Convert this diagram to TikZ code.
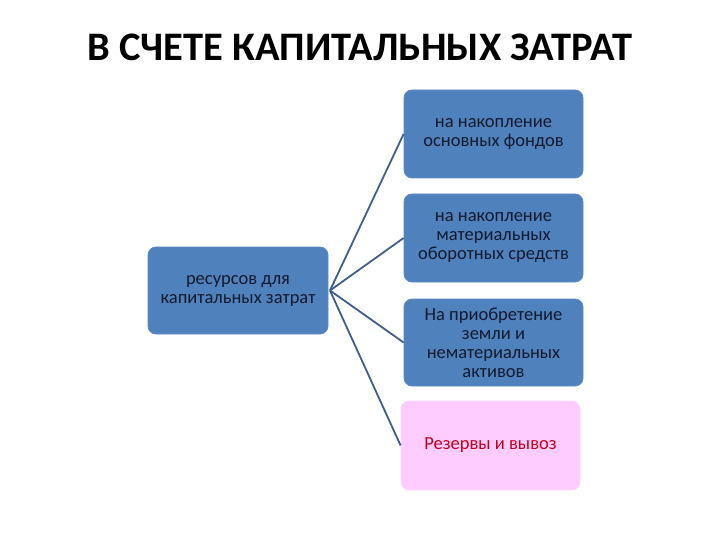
\documentclass[tikz,border=0pt]{standalone}
\usepackage{fontspec}
\setmainfont{Carlito}
\definecolor{boxblue}{HTML}{4F81BD}
\definecolor{boxedge}{HTML}{5B8AC4}
\definecolor{linecol}{HTML}{3E5F8A}
\definecolor{pinkfill}{HTML}{FFCCFF}
\definecolor{redtext}{HTML}{C0001A}
\definecolor{darktext}{HTML}{141A2E}
\begin{document}
\begin{tikzpicture}[x=1pt,y=-1pt,
  bluebox/.style={draw=boxedge,fill=boxblue,rounded corners=8pt,line width=0.8pt,
    text=darktext,align=center,font=\fontsize{18.5}{19}\selectfont,inner sep=0pt},
  pinkbox/.style={draw=pinkfill!80!white,fill=pinkfill,rounded corners=8pt,line width=0.8pt,
    text=redtext,align=center,font=\fontsize{18.5}{19}\selectfont,inner sep=0pt},
  conn/.style={draw=linecol,line width=1.8pt}]
\useasboundingbox (0,0) rectangle (720,540);
\node[font=\bfseries\fontsize{40.5}{44}\selectfont] (title) at (360,47) {В СЧЕТЕ КАПИТАЛЬНЫХ ЗАТРАТ};
\node[bluebox,minimum width=180pt,minimum height=87pt] (src) at (238,290.5) {ресурсов для\\капитальных затрат};
\node[bluebox,minimum width=179pt,minimum height=88pt] (b1) at (493.5,134) {на накопление\\основных фондов};
\node[bluebox,minimum width=179pt,minimum height=88pt] (b2) at (493.5,238) {на накопление\\материальных\\оборотных средств};
\node[bluebox,minimum width=179pt,minimum height=87pt] (b3) at (493.5,342.5) {На приобретение\\земли и\\нематериальных\\активов};
\node[pinkbox,minimum width=179pt,minimum height=89pt] (b4) at (490.5,445.5) {Резервы и вывоз};
\coordinate (hub) at (330,290.5);
\draw[conn] (hub) -- (b1.west);
\draw[conn] (hub) -- (b2.west);
\draw[conn] (hub) -- (b3.west);
\draw[conn] (hub) -- (b4.west);
\end{tikzpicture}
\end{document}
